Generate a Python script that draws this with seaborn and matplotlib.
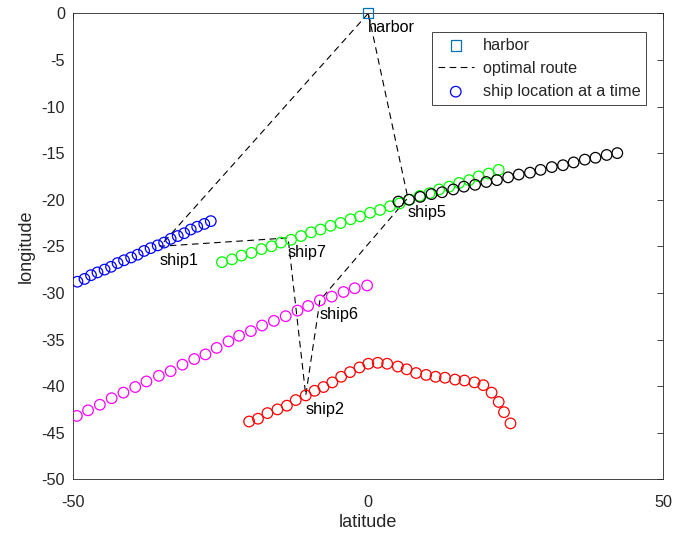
import matplotlib
matplotlib.use("Agg")
import matplotlib.pyplot as plt
import seaborn as sns
import pandas as pd

sns.set_style("white")
plt.rcParams['font.family'] = ['Liberation Sans', 'DejaVu Sans']
plt.rcParams['axes.unicode_minus'] = False

# ship tracks (latitude, longitude)
ship1_x = [-49.3, -48.1, -47.0, -45.9, -44.7, -43.6, -42.5, -41.4, -40.2, -39.1, -38.0,
           -36.9, -35.7, -34.6, -33.5, -32.3, -31.2, -30.1, -29.0, -27.8, -26.7]
ship1_y = [-28.8, -28.5, -28.1, -27.8, -27.5, -27.2, -26.8, -26.5, -26.2, -25.9, -25.5,
           -25.2, -24.9, -24.6, -24.2, -23.9, -23.6, -23.2, -22.9, -22.6, -22.3]

ship7_x = [-24.8, -23.1, -21.5, -19.8, -18.1, -16.4, -14.8, -13.1, -11.4, -9.7, -8.1, -6.4,
           -4.7, -3.0, -1.4, 0.3, 2.0, 3.7, 5.3, 7.0, 8.7, 10.4, 12.0, 13.7, 15.4, 17.1,
           18.7, 20.4, 22.1]
ship7_y = [-26.7, -26.4, -26.0, -25.7, -25.3, -25.0, -24.6, -24.3, -23.9, -23.5, -23.2,
           -22.8, -22.5, -22.1, -21.8, -21.4, -21.1, -20.7, -20.4, -20.0, -19.6, -19.3,
           -18.9, -18.6, -18.2, -17.9, -17.5, -17.2, -16.8]

ship5_x = [5.1, 6.9, 8.8, 10.7, 12.5, 14.4, 16.2, 18.1, 20.0, 21.8, 23.7, 25.5, 27.4,
           29.2, 31.1, 33.0, 34.8, 36.7, 38.5, 40.4, 42.2]
ship5_y = [-20.2, -20.0, -19.7, -19.4, -19.2, -18.9, -18.6, -18.4, -18.1, -17.9, -17.6,
           -17.3, -17.1, -16.8, -16.5, -16.3, -16.0, -15.7, -15.5, -15.2, -15.0]

ship6_x = [-49.4, -47.5, -45.5, -43.5, -41.5, -39.5, -37.6, -35.5, -33.5, -31.5, -29.5,
           -27.6, -25.7, -23.7, -21.9, -19.9, -18.0, -16.0, -14.0, -12.0, -10.2, -8.2,
           -6.2, -4.2, -2.3, -0.2]
ship6_y = [-43.2, -42.6, -42.0, -41.3, -40.7, -40.1, -39.5, -38.9, -38.4, -37.7, -37.1,
           -36.6, -35.9, -35.2, -34.6, -34.1, -33.5, -33.0, -32.5, -31.9, -31.4, -30.8,
           -30.4, -29.9, -29.5, -29.2]

ship2_x = [-20.2, -18.7, -17.1, -15.4, -13.8, -12.3, -10.6, -9.1, -7.6, -6.1, -4.6,
           -3.1, -1.5, 0.0, 1.6, 3.2, 5.0, 6.5, 8.1, 9.8, 11.4, 13.0, 14.7, 16.3, 18.0,
           19.5, 20.9, 22.1, 23.0, 24.1]
ship2_y = [-43.8, -43.5, -42.9, -42.5, -42.1, -41.5, -41.0, -40.5, -40.1, -39.6, -39.0,
           -38.5, -38.0, -37.6, -37.5, -37.6, -37.9, -38.2, -38.6, -38.8, -39.0, -39.1,
           -39.3, -39.4, -39.6, -39.9, -40.7, -41.7, -42.8, -44.0]

harbor = (0.0, 0.0)

# optimal route (stop names and positions)
route_names = ["harbor", "ship1", "ship7", "ship2", "ship6", "ship5", "harbor"]
route_x = [0.0, -35.3, -13.6, -10.6, -8.2, 6.7, 0.0]
route_y = [0.0, -25.0, -24.1, -41.0, -30.8, -19.8, 0.0]

ships = [
    ("ship1", ship1_x, ship1_y, (0, 0, 1)),
    ("ship7", ship7_x, ship7_y, (0, 1, 0)),
    ("ship5", ship5_x, ship5_y, (0, 0, 0)),
    ("ship6", ship6_x, ship6_y, (1, 0, 1)),
    ("ship2", ship2_x, ship2_y, (1, 0, 0)),
]

fig = plt.figure(figsize=(6.88, 5.37), dpi=100)
L, R, T, B = 73.3, 663.3, 13.3, 479.3
ax = fig.add_axes([L/688, 1 - B/537, (R - L)/688, (B - T)/537])

# harbor
sns.scatterplot(x=[harbor[0]], y=[harbor[1]], marker="s", s=55, facecolor="none",
                edgecolor="#0072BD", linewidth=0.9, ax=ax, label="harbor", zorder=4,
                clip_on=False)

# route
route_df = pd.DataFrame({"x": route_x, "y": route_y})
sns.lineplot(data=route_df, x="x", y="y", sort=False, color="black", linewidth=0.8,
             estimator=None, ax=ax, label="optimal route", zorder=2)
ax.lines[-1].set_dashes([6, 4])

# ship tracks
for i, (name, xs, ys, col) in enumerate(ships):
    sns.scatterplot(x=xs, y=ys, marker="o", s=58, facecolor="none", edgecolor=col,
                    linewidth=0.9, ax=ax, zorder=3,
                    label="ship location at a time" if i == 0 else None)

# labels
for name, x, y in zip(route_names[:-1], route_x[:-1], route_y[:-1]):
    ax.text(x, y - 1.55, name, ha="left", va="center", fontsize=11.7, color="black")

ax.set_xlim(-50, 50)
ax.set_ylim(-50, 0)
ax.set_xticks([-50, 0, 50])
ax.set_yticks(list(range(-50, 1, 5)))
ax.tick_params(direction="in", length=4.3, width=0.6, labelsize=11.7, top=True, right=True,
               colors="#262626")
ax.tick_params(axis="x", pad=11)
ax.tick_params(axis="y", pad=6)
for sp in ax.spines.values():
    sp.set_linewidth(0.6)
    sp.set_color("#262626")
ax.set_xlabel("latitude", fontsize=13, color="#262626", labelpad=3)
ax.set_ylabel("longitude", fontsize=13, color="#262626", labelpad=5)

lx = (646 - L) / (R - L)
ly = (B - 32) / (B - T)
leg = ax.legend(loc="upper right", bbox_to_anchor=(lx, ly), borderaxespad=0,
                fontsize=11.7, frameon=True, fancybox=False, edgecolor="#262626",
                framealpha=1, borderpad=0.35, handlelength=2.2, handletextpad=0.55,
                labelspacing=0.5)
leg.get_frame().set_linewidth(0.6)
handles = leg.legend_handles
handles[0].set_edgecolor("#0072BD")
handles[0].set_linewidth(0.9)
handles[2].set_edgecolor((0, 0, 1))
handles[2].set_linewidth(0.9)
handles[1].set_dashes([6, 4])
handles[1].set_linewidth(0.8)

fig.savefig("out.png", dpi=100)
